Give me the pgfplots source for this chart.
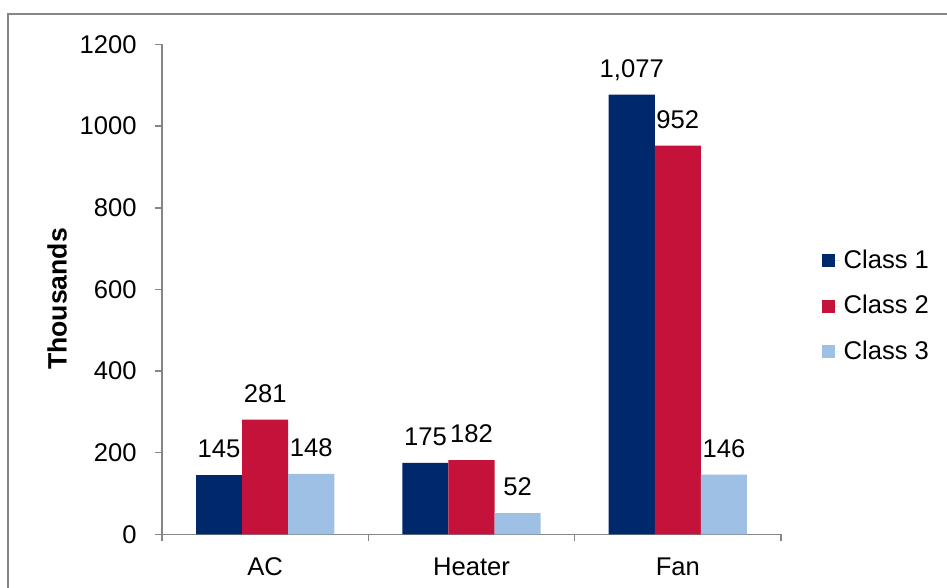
\documentclass[border=0pt]{standalone}
\usepackage{pgfplots}
\pgfplotsset{compat=1.18}
\usepackage{fontspec}
\setmainfont{Liberation Sans}

\definecolor{classone}{RGB}{0,41,107}
\definecolor{classtwo}{RGB}{196,18,58}
\definecolor{classthree}{RGB}{158,192,228}
\definecolor{axisgray}{RGB}{134,134,134}

\newcommand{\chartfont}{\fontsize{12.8pt}{15pt}\selectfont}

\begin{document}
\begin{tikzpicture}[x=0.5pt,y=0.5pt]
\useasboundingbox (0,0) rectangle (947,588);
% outer chart frame
\draw[axisgray, line width=0.75pt] (8,0) -- (8,574) -- (947,574);
\node[rotate=90, font=\fontsize{13.3pt}{15pt}\selectfont\bfseries] at (57,289) {Thousands};
\begin{axis}[
  at={(81pt,26.85pt)}, anchor=south west,
  scale only axis, width=309.5pt, height=244.9pt,
  xmin=-0.5, xmax=2.5, ymin=0, ymax=1200,
  axis x line*=bottom, axis y line*=left,
  axis line style={draw=axisgray, line width=0.75pt},
  tick align=outside, major tick length=3.5pt,
  tick style={draw=axisgray, line width=0.75pt},
  xtick={-0.5,0.5,1.5,2.5}, xticklabels={,,,},
  extra x ticks={0,1,2}, extra x tick labels={AC,Heater,Fan},
  extra x tick style={major tick length=0pt,
    xticklabel style={anchor=base, yshift=-20.5pt}},
  ytick={0,200,...,1200},
  yticklabel style={anchor=east, inner sep=0pt, xshift=-9pt},
  ticklabel style={font=\chartfont},
  /pgf/number format/.cd, 1000 sep={}, assume math mode=true, /pgfplots/.cd,
  bar width=0.2233,
  ybar, bar shift=0,
  nodes near coords={\pgfmathprintnumber[1000 sep={,},assume math mode=true]{\pgfplotspointmeta}},
  every node near coord/.append style={font=\chartfont, anchor=base, inner sep=0pt, yshift=8.75pt},
  legend style={draw=none, fill=none, font=\chartfont, at={(axis description cs:1.065,0.466)}, anchor=west,
    row sep=8pt, inner sep=0pt, cells={anchor=west}},
  legend image code/.code={%
    \fill[#1] (0pt,-3.25pt) rectangle (6.5pt,3.25pt);
    \path (0pt,0pt) -- (9pt,0pt);},
]
\addplot[fill=classone, draw=none, bar shift=-0.2233] coordinates {(0,145) (1,175) (2,1077)};
\addplot[fill=classtwo, draw=none, bar shift=0] coordinates {(0,281) (1,182) (2,952)};
\addplot[fill=classthree, draw=none, bar shift=0.2233] coordinates {(0,148) (1,52) (2,146)};
\legend{Class 1, Class 2, Class 3}
\end{axis}
\end{tikzpicture}
\end{document}
